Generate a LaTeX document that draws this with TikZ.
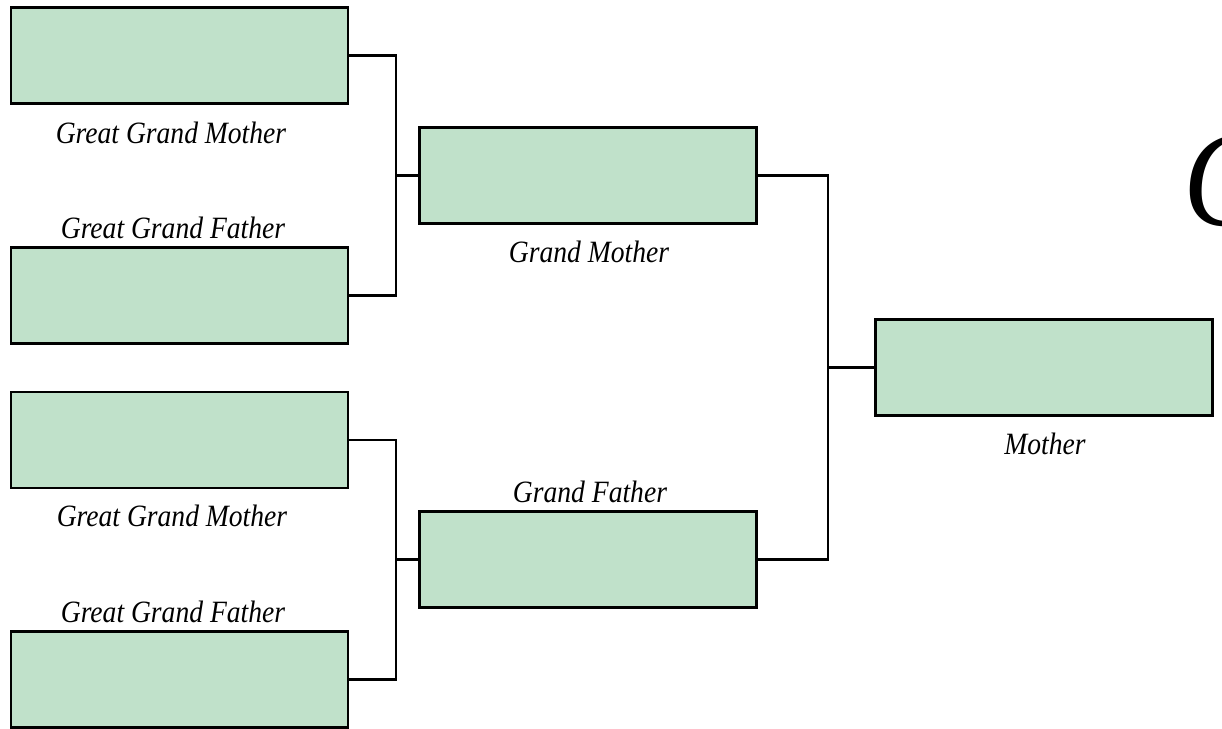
\documentclass[tikz,border=0pt]{standalone}
\usepackage{fontspec}
\setmainfont{Liberation Serif}[FakeStretch=0.89]
\begin{document}
\begin{tikzpicture}[x=1pt,y=-1pt,
  person/.style={draw=black,line width=2.7pt,fill=boxgreen,minimum width=337pt,minimum height=96pt,inner sep=0pt},
  conn/.style={draw=black,line width=2.3pt},
  lbl/.style={anchor=base,inner sep=0pt,font=\fontsize{31}{31}\selectfont\itshape}]
\definecolor{boxgreen}{RGB}{192,225,202}
\useasboundingbox (0,0) rectangle (1222,728);
\clip (0,0) rectangle (1222,728);
\node[person] (ggm1) at (179.5,55.5) {};
\node[person] (ggf1) at (179.5,295.5) {};
\node[person] (ggm2) at (179.5,440) {};
\node[person] (ggf2) at (179.5,679.5) {};
\node[person] (gm) at (588,175.5) {};
\node[person] (gf) at (588,559.5) {};
\node[person] (mo) at (1044,367.5) {};
\coordinate (j1) at (396,175.5);
\coordinate (j2) at (396,559.5);
\coordinate (j3) at (828,367.5);
\draw[conn] (ggm1.east) -| (j1) |- (ggf1.east);
\draw[conn] (j1) -- (gm.west);
\draw[conn] (ggm2.east) -| (j2) |- (ggf2.east);
\draw[conn] (j2) -- (gf.west);
\draw[conn] (gm.east) -| (j3) |- (gf.east);
\draw[conn] (j3) -- (mo.west);
\node[lbl] (l1) at (171,143) {Great Grand Mother};
\node[lbl] (l2) at (173,238) {Great Grand Father};
\node[lbl] (l3) at (589,262) {Grand Mother};
\node[lbl] (l4) at (590,502) {Grand Father};
\node[lbl] (l5) at (1045,454) {Mother};
\node[lbl] (l6) at (172,526) {Great Grand Mother};
\node[lbl] (l7) at (173,622) {Great Grand Father};
\node[anchor=base west,inner sep=0pt,font=\fontsize{136}{136}\selectfont\itshape] (title) at (1183,225) {C};
\end{tikzpicture}
\end{document}
